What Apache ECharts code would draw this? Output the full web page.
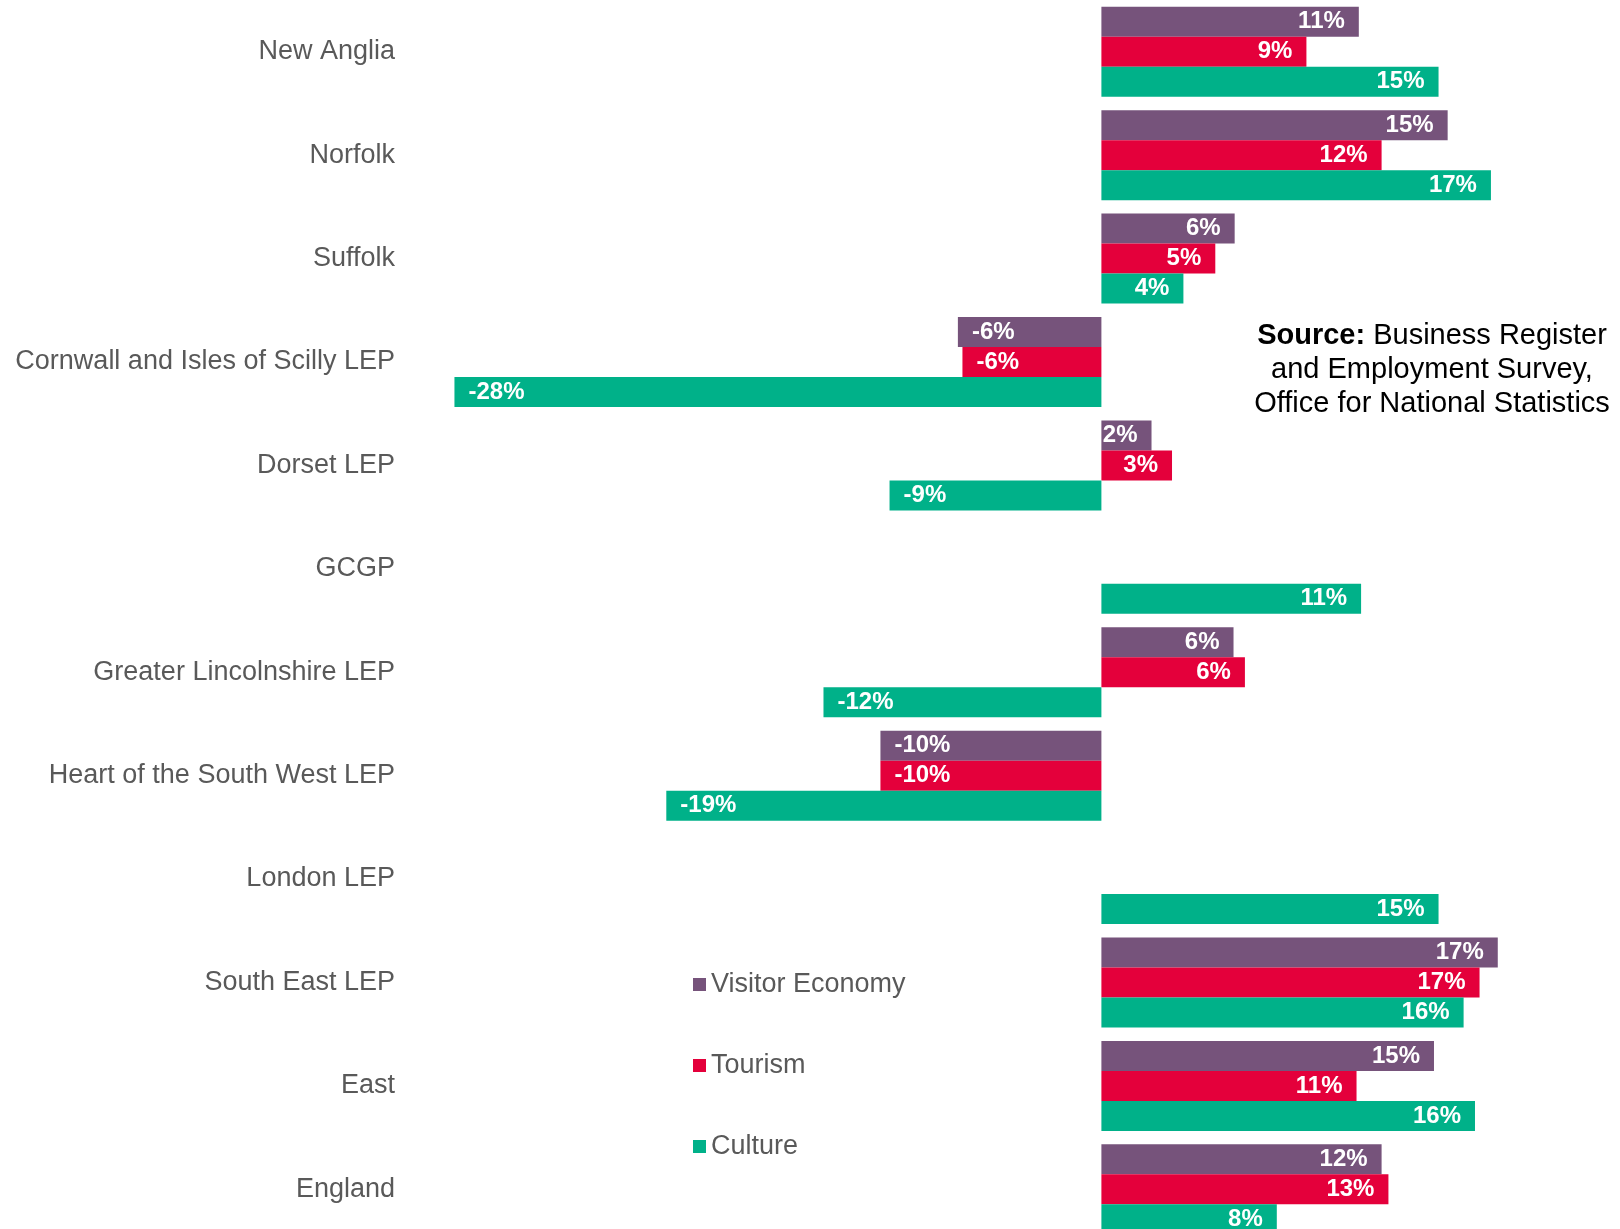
<!DOCTYPE html>
<html>
<head>
<meta charset="utf-8">
<script src="https://cdn.jsdelivr.net/npm/echarts@6/dist/echarts.min.js"></script>
<style>
  html, body { margin: 0; padding: 0; background: #fff; overflow: hidden; }
  /* plot runs a little past the bottom edge, as in the original */
  #main { width: 1620px; height: 1241px; }
</style>
</head>
<body>
<div id="main"></div>
<script>
var categories = ['New Anglia', 'Norfolk', 'Suffolk', 'Cornwall and Isles of Scilly LEP', 'Dorset LEP', 'GCGP',
    'Greater Lincolnshire LEP', 'Heart of the South West LEP', 'London LEP', 'South East LEP', 'East', 'England'];
var visitorEconomy = [11.3, 15.2, 5.85, -6.3, 2.2, null, 5.8, -9.7, null, 17.4, 14.6, 12.3];
var tourism = [9.0, 12.3, 5.0, -6.1, 3.1, null, 6.3, -9.7, null, 16.6, 11.2, 12.6];
var culture = [14.8, 17.1, 3.6, -28.4, -9.3, 11.4, -12.2, -19.1, 14.8, 15.9, 16.4, 7.7];

var FONT = '"Liberation Sans", Arial, sans-serif';

// label sits at the outer end of each bar
function withLabels(arr) {
    return arr.map(function (v) {
        if (v === null) return null;
        return {
            value: v,
            label: { position: v < 0 ? 'insideLeft' : 'insideRight' }
        };
    });
}

function barSeries(name, arr, color) {
    return {
        name: name,
        type: 'bar',
        data: withLabels(arr),
        barWidth: 30,
        barGap: '0%',
        itemStyle: { color: color },
        label: {
            show: true,
            distance: 14,
            color: '#fff',
            fontSize: 24,
            fontWeight: 'bold',
            fontFamily: FONT,
            formatter: function (p) { return Math.round(p.value) + '%'; }
        }
    };
}

var myChart = echarts.init(document.getElementById('main'));

var option = {
    animation: false,
    grid: { left: 418, right: 63, top: 0, bottom: 0, containLabel: false },
    legend: {
        orient: 'vertical',
        left: 688,
        top: 966,
        itemWidth: 13,
        itemHeight: 13,
        itemGap: 54,
        icon: 'rect',
        textStyle: { fontSize: 27, color: '#595959', fontFamily: FONT },
        data: ['Visitor Economy', 'Tourism', 'Culture']
    },
    xAxis: {
        type: 'value',
        min: -30,
        max: 20,
        show: false
    },
    yAxis: {
        type: 'category',
        inverse: true,
        data: categories,
        axisLine: { show: false },
        axisTick: { show: false },
        axisLabel: { margin: 23, fontSize: 27, color: '#595959', fontFamily: FONT }
    },
    graphic: [{
        type: 'text',
        x: 1432,
        y: 319,
        style: {
            text: '{b|Source:} Business Register\nand Employment Survey,\nOffice for National Statistics',
            align: 'center',
            verticalAlign: 'top',
            font: '29px ' + FONT,
            fill: '#000',
            lineHeight: 34,
            rich: {
                b: { fontWeight: 'bold', fontSize: 29, fontFamily: FONT, fill: '#000', lineHeight: 34 }
            }
        }
    }],
    series: [
        barSeries('Visitor Economy', visitorEconomy, '#76537B'),
        barSeries('Tourism', tourism, '#E4003B'),
        barSeries('Culture', culture, '#00B189')
    ]
};

myChart.setOption(option);
</script>
</body>
</html>
